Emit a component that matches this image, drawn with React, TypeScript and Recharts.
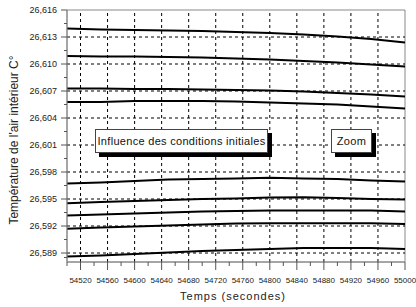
import React from 'react';
import { LineChart, Line, XAxis, YAxis, ReferenceLine, ReferenceArea } from 'recharts';

// temps (s) et températures
const TIMES = [54500, 54550, 54600, 54650, 54700, 54750, 54800, 54850, 54900, 54950, 55000];

const S1 = [26.61394, 26.61383, 26.61378, 26.61372, 26.61367, 26.61356, 26.61344, 26.61328, 26.61306, 26.61278, 26.61239];
const S2 = [26.61089, 26.61083, 26.61083, 26.61078, 26.61072, 26.61061, 26.6105, 26.61033, 26.61017, 26.60994, 26.60972];
const S3 = [26.60728, 26.60728, 26.60722, 26.60722, 26.60717, 26.60711, 26.60706, 26.60694, 26.60678, 26.60661, 26.60639];
const S4 = [26.60578, 26.60578, 26.60589, 26.60589, 26.60589, 26.60583, 26.60572, 26.60561, 26.6055, 26.60528, 26.60506];
const S5 = [26.59672, 26.59683, 26.597, 26.59717, 26.59722, 26.59728, 26.59736, 26.59728, 26.59722, 26.59706, 26.59694];
const S6 = [26.59453, 26.59467, 26.59478, 26.59489, 26.595, 26.59506, 26.59517, 26.5952, 26.59511, 26.595, 26.59494];
const S7 = [26.59317, 26.59328, 26.59339, 26.5935, 26.59361, 26.59367, 26.59372, 26.59372, 26.59372, 26.59372, 26.59361];
const S8 = [26.59169, 26.59183, 26.59194, 26.59206, 26.59217, 26.59228, 26.59231, 26.59231, 26.59231, 26.59231, 26.59222];
const S9 = [26.58861, 26.58872, 26.58889, 26.58906, 26.58922, 26.58933, 26.58944, 26.58956, 26.58956, 26.58956, 26.58944];

const SERIES = [S1, S2, S3, S4, S5, S6, S7, S8, S9];

const X_MAJOR = [54520, 54560, 54600, 54640, 54680, 54720, 54760, 54800, 54840, 54880, 54920, 54960, 55000];
const X_MINOR = [54500, 54540, 54580, 54620, 54660, 54700, 54740, 54780, 54820, 54860, 54900, 54940, 54980];
const Y_MAJOR = [26.589, 26.592, 26.595, 26.598, 26.601, 26.604, 26.607, 26.61, 26.613, 26.616];
const Y_MINOR = [26.5885, 26.5905, 26.5935, 26.5965, 26.5995, 26.6025, 26.6055, 26.6085, 26.6115, 26.6145];

const data = TIMES.map((t, i) => {
  const row: any = { t };
  SERIES.forEach((s, k) => (row['s' + k] = s[i]));
  return row;
});

const FONT = '"Liberation Sans", Arial, sans-serif';

const isMajorY = (v: number) => Y_MAJOR.some(m => Math.abs(m - v) < 1e-7);
const fmtY = (v: number) => v.toFixed(3).replace('.', ',');

const XTick = ({ x, y, payload }: any) => {
  const major = X_MAJOR.includes(payload.value);
  return (
    <g>
      <line x1={x} x2={x} y1={y} y2={y + (major ? 8 : 4)} stroke="#555" />
      {major && (
        <text x={x} y={y + 21} textAnchor="middle" fontSize={8} fontFamily={FONT} fill="#222">
          {payload.value}
        </text>
      )}
    </g>
  );
};

const YTick = ({ x, y, payload }: any) => {
  const major = isMajorY(payload.value);
  return (
    <g>
      <line x1={x - (major ? 6 : 3)} x2={x} y1={y} y2={y} stroke="#555" />
      {major && (
        <text x={x - 10} y={y + 3} textAnchor="end" fontSize={9} fontFamily={FONT} fill="#222">
          {fmtY(payload.value)}
        </text>
      )}
    </g>
  );
};

const boxStyle: React.CSSProperties = {
  position: 'absolute',
  top: 129,
  height: 24,
  background: '#fff',
  border: '1px solid #444',
  boxShadow: '4px 4px 0 #000',
  boxSizing: 'border-box',
  fontFamily: FONT,
  fontSize: 11,
  letterSpacing: 0.3,
  color: '#111',
  display: 'flex',
  alignItems: 'center',
  justifyContent: 'center',
};

export default function App() {
  return (
    <div style={{ position: 'absolute', left: 0, top: 0, width: 416, height: 307, background: '#fff' }}>
      <LineChart width={416} height={307} data={data} margin={{ top: 10, right: 11, bottom: 15, left: 7 }}>
        <XAxis
          dataKey="t"
          type="number"
          domain={[54500, 55000]}
          ticks={[...X_MINOR, ...X_MAJOR].sort((a, b) => a - b)}
          interval={0}
          tick={<XTick />}
          tickLine={false}
          tickSize={0}
          tickMargin={0}
          height={30}
          stroke="#888"
          allowDataOverflow
        />
        <YAxis
          type="number"
          domain={[26.588, 26.616]}
          ticks={[...Y_MINOR, ...Y_MAJOR].sort((a, b) => a - b)}
          interval={0}
          tick={<YTick />}
          tickLine={false}
          tickSize={0}
          tickMargin={0}
          width={60}
          stroke="#888"
          allowDataOverflow
        />
        <ReferenceArea x1={54500} x2={55000} y1={26.588} y2={26.616} fill="none" stroke="#888" strokeWidth={1} />
        {X_MAJOR.slice(0, -1).map(v => (
          <ReferenceLine key={'x' + v} x={v} stroke="#000" strokeDasharray="3 3" strokeWidth={1} />
        ))}
        {Y_MAJOR.slice(0, -1).map(v => (
          <ReferenceLine key={'y' + v} y={v} stroke="#000" strokeDasharray="3 3" strokeWidth={1} />
        ))}
        {SERIES.map((_, k) => (
          <Line
            key={k}
            dataKey={'s' + k}
            type="linear"
            stroke="#000"
            strokeWidth={2}
            dot={false}
            isAnimationActive={false}
          />
        ))}
      </LineChart>
      <div
        style={{
          position: 'absolute',
          left: 14,
          top: 140,
          transform: 'translate(-50%, -50%) rotate(-90deg)',
          whiteSpace: 'nowrap',
          fontFamily: FONT,
          fontSize: 12,
          color: '#222',
        }}
      >
        Température de l'air intérieur C°
      </div>
      <div
        style={{
          position: 'absolute',
          left: 233,
          top: 296,
          transform: 'translate(-50%, -50%)',
          whiteSpace: 'nowrap',
          fontFamily: FONT,
          fontSize: 11,
          letterSpacing: 1,
          color: '#222',
        }}
      >
        Temps (secondes)
      </div>
      <div style={{ ...boxStyle, left: 95, width: 173 }}>Influence des conditions initiales</div>
      <div style={{ ...boxStyle, left: 331, width: 41 }}>Zoom</div>
    </div>
  );
}
